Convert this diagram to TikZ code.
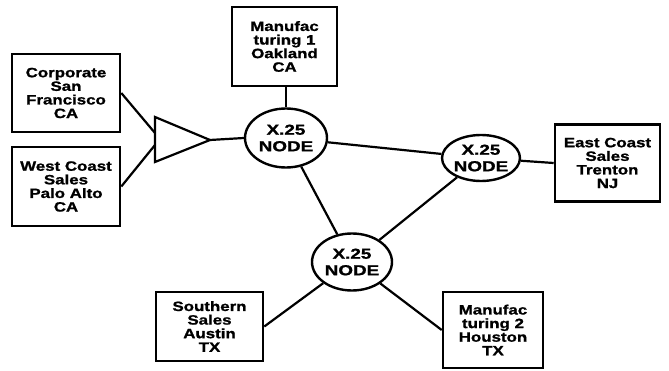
\documentclass[tikz,border=0pt]{standalone}
\usepackage{fontspec}
\usetikzlibrary{shapes.geometric}
\newfontfamily\boxfont[FakeStretch=1.25,FakeBold=1.2]{Liberation Sans}
\newfontfamily\nodefont[FakeStretch=1.3,FakeBold=1.2]{Liberation Sans}
\tikzset{
  site/.style={draw=black, line width=2.6pt, fill=white, rectangle, inner sep=0pt,
    align=center, font=\boxfont\bfseries\fontsize{13.5}{13.6}\selectfont},
  xnode/.style={draw=black, line width=2.4pt, fill=white, ellipse, inner sep=0pt,
    align=center, font=\nodefont\bfseries\fontsize{14.5}{16.5}\selectfont},
  link/.style={draw=black, line width=2.2pt},
}
\begin{document}
\begin{tikzpicture}[x=1pt, y=-1pt]
\useasboundingbox (0,0) rectangle (669,371);
% sites
\node[site, minimum width=108pt, minimum height=78pt] (sf) at (66,93) {Corporate\\San\\Francisco\\CA};
\node[site, minimum width=108pt, minimum height=79pt] (pa) at (66,186.5) {West Coast\\Sales\\Palo Alto\\CA};
\node[site, minimum width=105pt, minimum height=79pt] (oak) at (284.5,46.5) {Manufac\\turing 1\\Oakland\\CA};
\node[site, minimum width=105pt, minimum height=77pt] (tr) at (607.5,163) {East Coast\\Sales\\Trenton\\NJ};
\node[site, minimum width=107pt, minimum height=69pt] (au) at (209.5,326.5) {Southern\\Sales\\Austin\\TX};
\node[site, minimum width=100pt, minimum height=76pt] (hou) at (493,330) {Manufac\\turing 2\\Houston\\TX};
% X.25 nodes
\node[xnode, minimum width=82pt, minimum height=59pt] (n1) at (286,138) {X.25\\NODE};
\node[xnode, minimum width=78pt, minimum height=46pt] (n2) at (481,158) {X.25\\NODE};
\node[xnode, minimum width=80pt, minimum height=57pt] (n3) at (352,262) {X.25\\NODE};
% multiplexer triangle
\coordinate (tl) at (155,117);
\coordinate (tb) at (155,162);
\coordinate (tt) at (210,140);
\coordinate (ta) at (155,133);
\coordinate (tc) at (155,145);
\draw[link] (tl) -- (tt) -- (tb) -- cycle;
% connectors
\draw[link] (sf.east) -- (ta);
\draw[link] (pa.east) -- (tc);
\draw[link] (tt) -- (n1.west);
\draw[link] (oak.south -| n1.north) -- (n1.north);
\draw[link] (n1) -- (n2);
\draw[link] (n1) -- (n3);
\draw[link] (n2) -- (n3);
\draw[link] (tr.west) -- (n2);
\draw[link] (au.east) -- (n3);
\draw[link] (hou.west) -- (n3);
\end{tikzpicture}
\end{document}
